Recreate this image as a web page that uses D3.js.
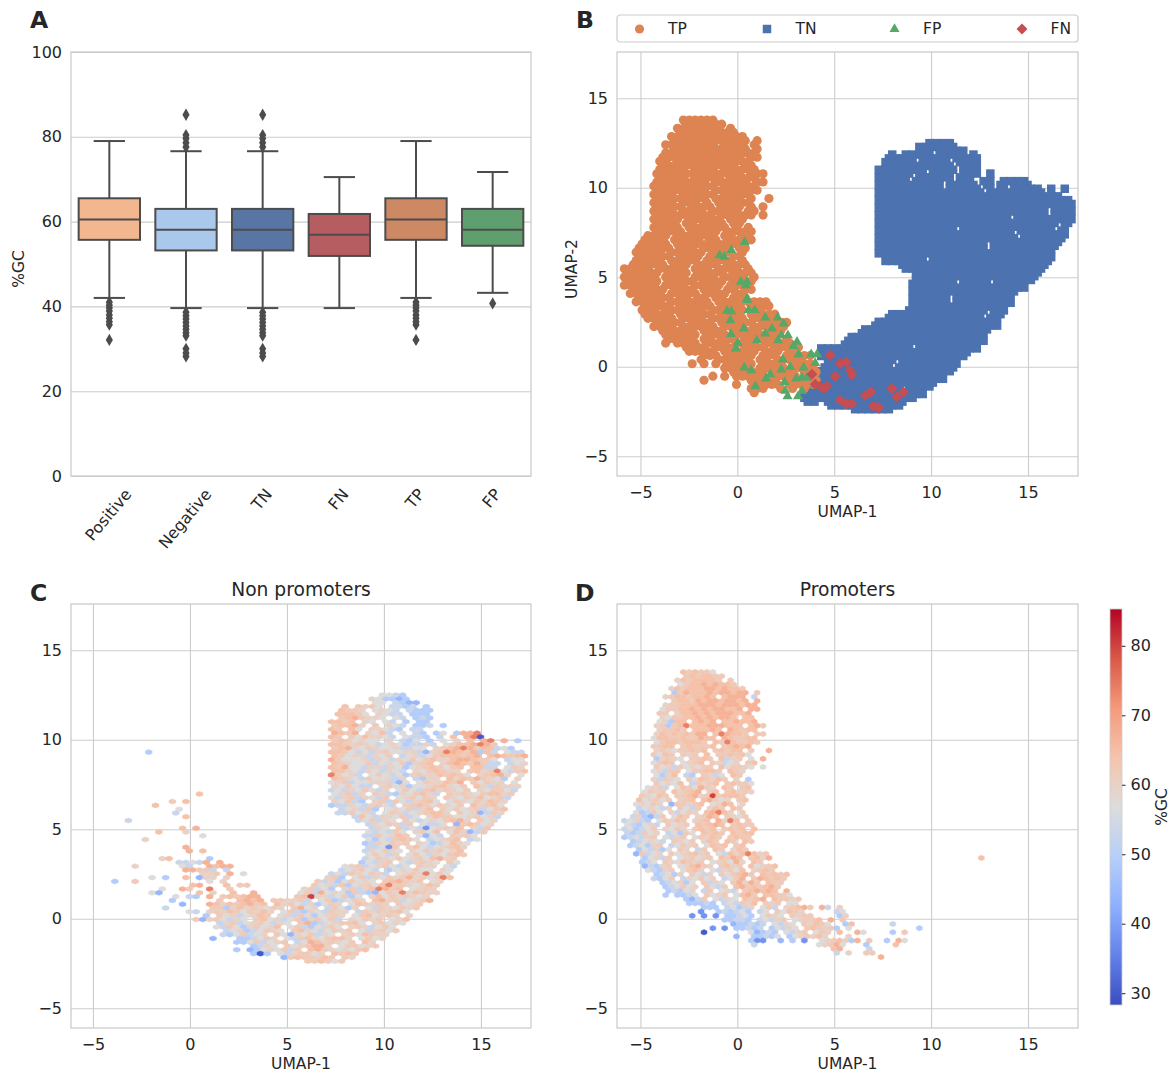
<!DOCTYPE html>
<html>
<head>
<meta charset="utf-8">
<script src="https://d3js.org/d3.v7.min.js"></script>
<style>
	body { margin: 0; background: #fff; }
	text { font-family: "DejaVu Sans", sans-serif; fill: #262626; }
</style>
</head>
<body>
<svg id="fig" width="1173" height="1074"></svg>
<script>
const CATEGORIES = ['Positive', 'Negative', 'TN', 'FN', 'TP', 'FP'];
const BOX_COLORS = ['#f2b78f', '#a9c8ec', '#5875a4', '#b55d60', '#cc8963', '#5f9e6e'];
const Q1 = [55.7, 53.2, 53.2, 51.9, 55.7, 54.3];
const MEDIAN = [60.5, 58.1, 58.1, 56.9, 60.5, 58.1];
const Q3 = [65.5, 63, 63, 61.8, 65.5, 63];
const WHISK_LOW = [42, 39.6, 39.6, 39.6, 42, 43.2];
const WHISK_HIGH = [79, 76.6, 76.6, 70.5, 79, 71.7];
const POS_OUTLIERS = [41, 40.3, 39.6, 38.9, 38, 37.2, 36.4, 35.7, 32.1];
const NEG_OUTLIERS = [85.2, 80.4, 79.6, 78.6, 77.6, 38.6, 37.8, 37, 36.2, 35.4, 34.6, 33.8, 33.1, 30, 29, 28.2];
const OUTLIERS = [POS_OUTLIERS, NEG_OUTLIERS, NEG_OUTLIERS, [], POS_OUTLIERS, [40.7]];

const GC_TICKS = [0, 20, 40, 60, 80, 100];
const UMAP_X_TICKS = [-5, 0, 5, 10, 15];
const UMAP_Y_TICKS = [-5, 0, 5, 10, 15];
const CBAR_TICKS = [30, 40, 50, 60, 70, 80];
const CBAR_RANGE = [28.3, 85.3];
const COOLWARM = ['#3b4cc0', '#6282ea', '#8db0fe', '#b7cff9', '#dddcdc', '#f5c4ac', '#f49a7b', '#d95847', '#b40426'];

const LEGEND = ['TP', 'TN', 'FP', 'FN'];
const CLASS_COLORS = { TP: '#dd8452', TN: '#4c72b0', FP: '#55a868', FN: '#c44e52' };

// false positives and false negatives seen on top of the two clouds in panel B, [umap1, umap2]
const FP_POINTS = [[2.39,2.41],[2.08,2.75],[1.44,2.75],[.89,3.16],[.58,3.16],[-.31,3.1],[-.53,3.12],[-.36,2.6],[.5,3.72],
	[2.27,1.76],[2.61,1.76],[3.08,1.39],[2.9,1.15],[3.81,.7],[4.11,.7],[3.16,.7],[-.33,1.82],[.02,1.33],
	[-.07,1.01],[1.01,1.48],[2.1,1.48],[.33,2.13],[1.44,1.85],[1.79,2.13],[2.35,.4],[.36,-.05],[.72,-.2],[1.7,-.42],[1.48,-.66],
	[2.27,-.16],[2.73,-.01],[3.42,-.05],[3.04,-.66],[3.33,-.61],[3.59,-.61],[2.44,-.85],[2.47,-1.35],[2.59,-1.65],[3.13,-1.65],
	[3.33,-1.35],[.93,-1.09],[4.02,.21],[3.99,-1.03],[.5,4.74],[.38,6.97],[-.31,6.51],[-.67,6.14],[-.91,6.23],
	[.18,4.74],[.44,4.55],[.5,3.81]];
const FN_POINTS = [[5.31,.18],[5.62,.27],[5.82,-.2],[5.91,-.47],[5.05,-.53],[3.85,-.42],[4.48,-1.22],[4.28,-1.09],[4.62,-1.09],
	[5.31,-1.87],[5.65,-2.06],[5.91,-2.06],[6.89,-1.41],[6.6,-1.6],[7.03,-2.21],[7.29,-2.28],[8.23,-1.69],[8.57,-1.41],[7.97,-1.22],
	[4.79,.64],[4.02,-.98]];

// %GC bands used by the hex rows below, a hex digit is an index in this list
const GC_LEVELS = [30, 38, 44, 49, 53, 57, 60, 62, 64.5, 67, 74, 80];

// hexbin rows from the top, each row is [column, cells, column, cells, ...], a space is an empty cell
const HEX_NON_PROMOTERS = [
	[39,"5543"],
	[38,"653323"],
	[38,"55 4322"],
	[34,"8 7675 4434 3"],
	[33,"8776 5654 4333"],
	[33,"88875 6544 333"],
	[33,"7897665 54 343"],
	[32,"8878 65 54 3 33"],
	[32,"78896 7 654 334 3"],
	[32,"87 85 66543 44"],
	[32,"9879 6584 5 43 35 399a"],
	[32,"87 7586654 5443 4 8 9a0"],
	[32,"7875655 6 435 3 5 6 8 9a 9 3"],
	[32,"8876765456534464 56889a97"],
	[32,"78965765564455 6789a9788453"],
	[5,"3",32,"88754546755664267a9879384 544"],
	[32,"875664657 456457888789 898789"],
	[32,"9755564654657578668998775 455"],
	[32,"876557456573678 689879744 456"],
	[32,"87955466465356787578 8844 576"],
	[32,"88654654654 6578766 7867a5478"],
	[32,"a7564 575453676687875 67896 5"],
	[32,"87654755646 4366 868797653 6"],
	[32,"567455666425 5766879 75766 5"],
	[32,"657544 6756355678657 8647666"],
	[32,"454657546 57547867657 657754"],
	[12,"8",32,"56746 7643657864 7676578867"],
	[32,"546746547 567576 7657685674"],
	[8,"7",10,"8",32,"65743 6747546785 576576876"],
	[6,"8",32,"3446546754 678757657 86785"],
	[9,"5",33,"456473 5657468 7575674578"],
	[9,"4",33,"447564 5764567886 7562476"],
	[10,"8",35,"4854665745 68775567564"],
	[2,"4",36,"457465 7545657896 756"],
	[37,"4657647 5445 278756"],
	[10,"8",12,"9",38,"465 7454156768 647"],
	[6,"8",10,"6",37,"545475 6758 586247"],
	[13,"5",37,"4475687 5254 7675"],
	[4,"6",37,"53547875 45678 45"],
	[37,"3465767 65345865"],
	[10,"9",37,"44517 685456786"],
	[11,"9",13,"8",37,"465765 65767568"],
	[37,"57546 575465787"],
	[7,"6",8,"8",14,"3",37,"45765756758967"],
	[9,"4454",13,"9",15,"9",36,"35467 546765 75"],
	[3,"6",10,"54",14,"989",17,"9",34,"5674567545 766 54"],
	[10,"9977",14,"4",16,"4",33,"456754 3565755 65"],
	[13,"667",17,"9",19,"5",32,"454765764 5676a575"],
	[5,"5",7,"3",10,"8",12,"266",16,"6",31,"673 5746576796756a8"],
	[0,"3",3,"7",14,"5",16,"6",30,"746357565 789767 56"],
	[11,"89",16,"8",18,"77",29,"75647356758a7765687"],
	[7,"5",10,"9",11,"7",14,"a",17,"7",28,"67453 67468a978 5676"],
	[5,"5",6,"2",12,"8",14,"6",17,"8",20,"9",27,"574956537432576a68766"],
	[9,"5",11,"43",14,"9",16,"787899",27,"78b6645735 685767656"],
	[8,"3",15,"7",18,"898",21,"9",23,"776",26,"674 5734576 896745679"],
	[10,"2",14,"98",16,"68789",21,"78",24,"8675463576 587676 7567"],
	[7,"4",14,"77368676576 7956 47536 54765767"],
	[11,"54",14,"6768757686 5743654766 47676785"],
	[13,"3",15,"75645687 5647535676 5785676 6"],
	[12,"72",14,"675465 7856457367574 65767 568"],
	[15,"46745675465 7934567785 67565"],
	[15,"5475367568 57435675 6764575"],
	[16,"456345765 786545767 546757"],
	[16,"4357456 752657465 6758766"],
	[14,"2",18,"334576 5478657886 5756"],
	[18,"33574567 459867657 86"],
	[20,"3465 7567996 577567"],
	[18,"3",20,"23565747 897656578"],
	[20,"303",24,"5467756 8787"],
	[25,"27877687 76"],
	[28,"778757"]
];
const HEX_PROMOTERS = [
	[10,"878775"],
	[10,"7878877"],
	[9,"68788887 7"],
	[9,"5788989887"],
	[8,"6878889989887"],
	[8,"3798889899899 7"],
	[7,"678878898 8999 4"],
	[8,"7887989989989 9"],
	[7,"6778889998999899"],
	[6,"57788989899889 99"],
	[6,"77 6889898999889"],
	[6,"6577889898998 88"],
	[6,"56388 8989 889889"],
	[5,"67378a888999888 897"],
	[6,"67787 88898 98788"],
	[5,"687878799 8a9887 77"],
	[5,"58877877988 987788"],
	[5,"578878887 87a87787"],
	[5,"7788 787778 78989"],
	[5,"676577878 78788 7  9"],
	[5,"7587 767 8 778785"],
	[5,"36765 7787 8467 5 9"],
	[5,"5787 5678 76456 78"],
	[5,"7564756577 857765 5"],
	[5,"56477 577887 876"],
	[5,"5368 43 7645 87"],
	[5,"64765 7587687 6 3"],
	[5,"75658 47678 78775"],
	[4,"5674 5875976 87 78"],
	[3,"5767 86789 78 78676"],
	[3,"76587 778967b78887"],
	[2,"856757 678 89756 78"],
	[2,"56576 277678 5698 6"],
	[2,"456546 7547 687 87"],
	[2,"53475 64576 89a86 7"],
	[1,"463247 587 6798 7657"],
	[0,"45643 57687 678 96a8 7"],
	[0,"543564 7567 87898 7877"],
	[0,"453457 6576 7878 7878 8"],
	[0,"434756 45375 8787 8788"],
	[0,"345467 5467 57687 7877"],
	[1,"345654 7657 687 87 87"],
	[1,"345367 45767 5878 78"],
	[2,"354635 76 47 87 687"],
	[2,"27456 7567867 54868a86",24,"7"],
	[3,"35647 567567 8798 786",24,"9",60,"8"],
	[3,"345 7658767 567596 87"],
	[3,"24367 568976 7867 85678"],
	[4,"54367 5786 546758 6787"],
	[5,"34536 7546 757897 87878"],
	[5,"4357 465756 4579 798787"],
	[6,"345635 7465 79697 877"],
	[7,"345756 7547 89787897"],
	[7,"34356 47 564 789898 9"],
	[7,"3",9,"3345 7567 5897 88775"],
	[10,"3247 5465 8789 87767"],
	[11,"3",12,"3343 454768 767 55"],
	[13,"333",17,"45346 574 67897",33,"9",34,"4",36,"6"],
	[13,"1",16,"3",17,"43453 45 75876",36,"4",37,"5"],
	[11,"1",13,"1",15,"1",17,"33453 5765 7677",36,"3",37,"6"],
	[17,"33443 45467 56778",35,"9",37,"7"],
	[18,"233434 5465 7687",34,"5",37,"3",38,"8",45,"4"],
	[15,"1",17,"1",19,"33434 35465 78767",36,"3",38,"5",50,"3"],
	[13,"0",21,"52343 5467 576 8",39,"9",40,"5",45,"3",47,"7"],
	[19,"2",22,"33435 3567686",38,"6"],
	[21,"311",26,"2",28,"3",30,"1",33,"56786",38,"3",39,"9",41,"7",44,"3",46,"9",47,"5"],
	[22,"4",33,"56795",41,"3",46,"8"],
	[35,"89",41,"4"],
	[36,"4",38,"6",41,"7",42,"7"],
	[43,"9"]
];

// hexbin grids, data units per column and per row, and where the first cell sits
const GRID_NON_PROMOTERS = { x0: -3.87, dx: .349, y0: 12.49, dy: .2123, shift: 1 };
const GRID_PROMOTERS = { x0: -5.83, dx: .3045, y0: 13.78, dy: .2307, shift: 0 };
// cells left of these limits are hidden under the TP cloud in panel B
const TN_SPLIT_HIGH = 4.2, TN_SPLIT_LOW = 3.4, TP_LIMIT = 4.1;

const svg = d3.select('#fig');

const hexCells = (rows, grid) => rows.flatMap((row, r) => {
	const cells = [];
	for (let k = 0; k < row.length; k += 2) {
		Array.from(row[k + 1]).forEach((c, i) => {
			if (c === ' ') return;
			const odd = (r + grid.shift) % 2 === 1;
			cells.push({
				x: grid.x0 + (row[k] + i + (odd ? .5 : 0)) * grid.dx,
				y: grid.y0 - r * grid.dy,
				gc: GC_LEVELS[parseInt(c, 16)]
			});
		});
	}
	return cells;
});
const cellsNon = hexCells(HEX_NON_PROMOTERS, GRID_NON_PROMOTERS);
const cellsPro = hexCells(HEX_PROMOTERS, GRID_PROMOTERS);

const colorT = d3.scaleLinear().domain(d3.range(COOLWARM.length).map(i => i / (COOLWARM.length - 1))).range(COOLWARM);
const gcColor = (v) => colorT((v - CBAR_RANGE[0]) / (CBAR_RANGE[1] - CBAR_RANGE[0]));

function styleAxis(g) {
	g.selectAll('.tick line').attr('stroke', '#cccccc').attr('stroke-width', 1.1);
	g.selectAll('.tick text').attr('font-size', 16).attr('fill', '#262626');
	g.select('.domain').remove();
}

function frame(g, w, h) {
	g.append('rect').attr('width', w).attr('height', h)
		.attr('fill', 'none').attr('stroke', '#cccccc').attr('stroke-width', 1.3);
}

function umapPanel(left, top, w, xMin, yLabel) {
	const h = 424;
	const g = svg.append('g').attr('transform', `translate(${left},${top})`);
	const x = d3.scaleLinear().domain([xMin, 17.58]).range([0, w]);
	const y = d3.scaleLinear().domain([-6.1, 17.58]).range([h, 0]);
	g.append('g').attr('transform', `translate(0,${h})`)
		.call(d3.axisBottom(x).tickValues(UMAP_X_TICKS).tickSize(-h).tickPadding(11)).call(styleAxis);
	g.append('g').call(d3.axisLeft(y).tickValues(UMAP_Y_TICKS).tickSize(-w).tickPadding(9)).call(styleAxis);
	frame(g, w, h);
	g.append('text').attr('x', w / 2).attr('y', h + 41).attr('text-anchor', 'middle').attr('font-size', 15.5).text('UMAP-1');
	if (yLabel) g.append('text').attr('transform', `translate(${-40},${h / 2 + 5}) rotate(-90)`).attr('text-anchor', 'middle').attr('font-size', 15.5).text(yLabel);
	return { g, x, y };
}

// A: box plots
(function boxPanel() {
	const w = 460, h = 424;
	const g = svg.append('g').attr('transform', 'translate(71,52)');
	const x = d3.scaleBand().domain(CATEGORIES).range([0, w]);
	const y = d3.scaleLinear().domain([0, 100]).range([h, 0]);
	g.append('g').call(d3.axisLeft(y).tickValues(GC_TICKS).tickSize(-w).tickPadding(9)).call(styleAxis);
	frame(g, w, h);
	const line = '#4c4c4c';
	const boxW = x.bandwidth() * .8, capW = boxW / 2;
	CATEGORIES.forEach((c, i) => {
		const cx = x(c) + x.bandwidth() / 2;
		const b = g.append('g').attr('stroke', line).attr('stroke-width', 2);
		b.append('line').attr('x1', cx).attr('x2', cx).attr('y1', y(WHISK_HIGH[i])).attr('y2', y(WHISK_LOW[i]));
		[WHISK_LOW[i], WHISK_HIGH[i]].forEach(v => b.append('line')
			.attr('x1', cx - capW / 2 * 1.02).attr('x2', cx + capW / 2 * 1.02).attr('y1', y(v)).attr('y2', y(v)));
		b.append('rect').attr('x', cx - boxW / 2).attr('width', boxW)
			.attr('y', y(Q3[i])).attr('height', y(Q1[i]) - y(Q3[i])).attr('fill', BOX_COLORS[i]);
		b.append('line').attr('x1', cx - boxW / 2).attr('x2', cx + boxW / 2).attr('y1', y(MEDIAN[i])).attr('y2', y(MEDIAN[i]));
		g.selectAll(null).data(OUTLIERS[i]).enter().append('path')
			.attr('d', d3.symbol(d3.symbolDiamond, 44))
			.attr('transform', d => `translate(${cx},${y(d)})`)
			.attr('fill', line);
	});
	CATEGORIES.forEach((c) => {
		const cx = x(c) + x.bandwidth() / 2;
		const t = g.append('text').attr('font-size', 16).attr('text-anchor', 'middle').attr('dominant-baseline', 'central').text(c);
		const half = t.node().getComputedTextLength() / 2;
		const a = 50 * Math.PI / 180;
		const dy = half * Math.sin(a) + 8 * Math.cos(a);
		t.attr('transform', `translate(${cx - 1},${h + 10 + dy}) rotate(-50)`);
	});
	g.append('text').attr('transform', `translate(-47,${h / 2 + 5}) rotate(-90)`).attr('text-anchor', 'middle').attr('font-size', 15.5).text('%GC');
})();

// B: classes in the UMAP plane
(function classPanel() {
	const { g, x, y } = umapPanel(617, 52, 461, -6.21, 'UMAP-2');
	const marker = {
		TP: d3.symbol(d3.symbolCircle, 66)(),
		TN: d3.symbol(d3.symbolSquare, 72)(),
		FP: d3.symbol(d3.symbolTriangle, 44)(),
		FN: d3.symbol(d3.symbolDiamond2, 76)()
	};
	const tn = cellsNon.filter(d => d.x > (d.y < -.5 ? TN_SPLIT_LOW : TN_SPLIT_HIGH));
	const tp = cellsPro.filter(d => d.x < TP_LIMIT);
	const draw = (data, key, px, py) => g.append('g').selectAll('path').data(data).enter().append('path')
		.attr('d', marker[key]).attr('fill', CLASS_COLORS[key])
		.attr('transform', d => `translate(${x(px(d))},${y(py(d))})`);
	draw(tn, 'TN', d => d.x, d => d.y);
	draw(tp, 'TP', d => d.x, d => d.y);
	draw(FP_POINTS, 'FP', d => d[0], d => d[1]);
	draw(FN_POINTS, 'FN', d => d[0], d => d[1]);

	const lg = svg.append('g').attr('transform', 'translate(617,15)');
	lg.append('rect').attr('width', 461).attr('height', 27).attr('rx', 3)
		.attr('fill', '#fff').attr('stroke', '#cccccc').attr('stroke-width', 1.2);
	const step = 127.5;
	LEGEND.forEach((k, i) => {
		lg.append('path').attr('d', marker[k]).attr('fill', CLASS_COLORS[k]).attr('transform', `translate(${22.5 + i * step},14)`);
		lg.append('text').attr('x', 51 + i * step).attr('y', 13.5).attr('dominant-baseline', 'central').attr('font-size', 15.5).text(k);
	});
})();

function hexPanel(left, w, xMin, title, cells, grid) {
	const { g, x, y } = umapPanel(left, 604, w, xMin, null);
	const sx = x(grid.dx) - x(0), sy = 2 * (y(0) - y(grid.dy));
	const hex = `M${sx / 2},${-sy / 6}L${sx / 2},${sy / 6}L0,${sy / 3}L${-sx / 2},${sy / 6}L${-sx / 2},${-sy / 6}L0,${-sy / 3}Z`;
	g.append('g').selectAll('path').data(cells).enter().append('path')
		.attr('d', hex)
		.attr('fill', d => gcColor(d.gc))
		.attr('stroke', d => gcColor(d.gc))
		.attr('stroke-width', .5)
		.attr('transform', d => `translate(${x(d.x)},${y(d.y)})`);
	g.append('text').attr('x', w / 2).attr('y', -8).attr('text-anchor', 'middle').attr('font-size', 18.7).text(title);
}
hexPanel(71, 460, -6.13, 'Non promoters', cellsNon, GRID_NON_PROMOTERS);
hexPanel(617, 461, -6.21, 'Promoters', cellsPro, GRID_PROMOTERS);

// colorbar
(function colorbar() {
	const top = 609, bottom = 1005, left = 1110, w = 12;
	const y = d3.scaleLinear().domain(CBAR_RANGE).range([bottom, top]);
	const defs = svg.append('defs').append('linearGradient').attr('id', 'cw')
		.attr('x1', 0).attr('x2', 0).attr('y1', 1).attr('y2', 0);
	COOLWARM.forEach((c, i) => defs.append('stop').attr('offset', i / (COOLWARM.length - 1)).attr('stop-color', c));
	const g = svg.append('g').attr('transform', `translate(${left},0)`);
	g.append('rect').attr('y', top).attr('width', w).attr('height', bottom - top)
		.attr('fill', 'url(#cw)').attr('stroke', '#cccccc').attr('stroke-width', .8);
	g.append('g').attr('transform', `translate(${w},0)`)
		.call(d3.axisRight(y).tickValues(CBAR_TICKS).tickSize(3.5).tickPadding(5))
		.call(ax => {
			ax.select('.domain').remove();
			ax.selectAll('.tick line').attr('stroke', '#262626');
			ax.selectAll('.tick text').attr('font-size', 16).attr('fill', '#262626');
		});
	g.append('text').attr('transform', `translate(${57},${807}) rotate(-90)`).attr('text-anchor', 'middle').attr('font-size', 15.5).text('%GC');
})();

// panel letters
[['A', 30, 20], ['B', 576, 20], ['C', 30, 593], ['D', 575, 593]].forEach(([t, px, py]) => {
	svg.append('text').attr('x', px).attr('y', py).attr('font-size', 23.5).attr('font-weight', 'bold').attr('dominant-baseline', 'central').text(t);
});
</script>
</body>
</html>
